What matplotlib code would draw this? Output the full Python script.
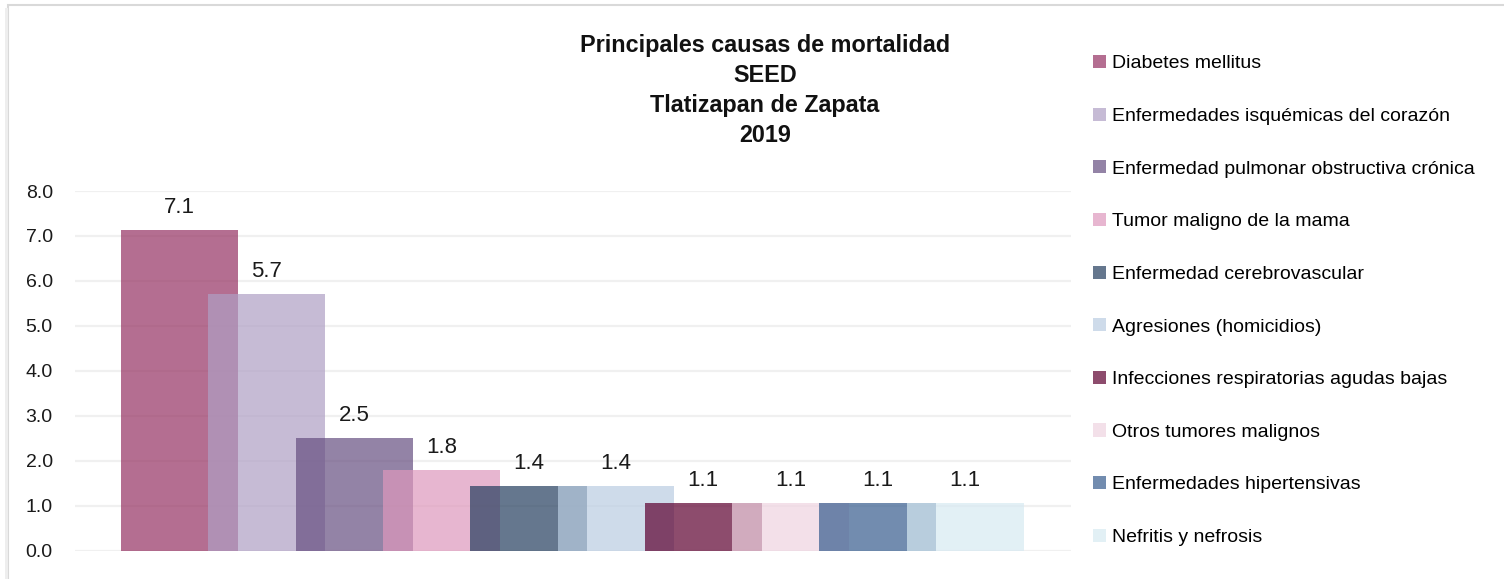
import matplotlib
matplotlib.use('Agg')
import matplotlib.pyplot as plt
from matplotlib.patches import Rectangle, Patch
import numpy as np

plt.rcParams['font.family'] = ['Liberation Sans Narrow', 'Liberation Sans', 'DejaVu Sans']

# data
causes = ['Diabetes mellitus',
          'Enfermedades isquémicas del corazón',
          'Enfermedad pulmonar obstructiva crónica',
          'Tumor maligno de la mama',
          'Enfermedad cerebrovascular',
          'Agresiones (homicidios)',
          'Infecciones respiratorias agudas bajas',
          'Otros tumores malignos',
          'Enfermedades hipertensivas',
          'Nefritis y nefrosis']
rates = [7.14, 5.71, 2.51, 1.80, 1.44, 1.44, 1.06, 1.06, 1.06, 1.06]
colors = ['#953162', '#af9fc4', '#664e80', '#de98bc', '#243e5e',
          '#bacde2', '#5d002f', '#efd4e1', '#365c8e', '#d7eaf2']
title_lines = ['Principales causas de mortalidad', 'SEED', 'Tlatizapan de Zapata', '2019']

W, H = 1504, 579
fig = plt.figure(figsize=(W / 100, H / 100), dpi=100)

# chart area border
fig.patches.append(Rectangle((8 / W, -0.05), 1.2, 1 - 5 / H + 0.05, transform=fig.transFigure,
                             fill=False, edgecolor='#d9d9d9', lw=1.5))
fig.patches.append(Rectangle((5 / W, -0.05), 3 / W, 1 - 8 / H + 0.05, transform=fig.transFigure,
                             facecolor='#eeeeee', edgecolor='none'))

ax = fig.add_axes([75 / W, (H - 550.7) / H, (1071 - 75) / W, (550.7 - 191) / H])
x = np.arange(len(rates))
for i, (v, c) in enumerate(zip(rates, colors)):
    ax.bar(x[i], v, width=1.34, color=c, alpha=0.7, linewidth=0, zorder=2 + i)
    ax.annotate('{:.1f}'.format(v), (x[i], v), xytext=(0, 12), textcoords='offset points',
                ha='center', va='baseline', fontsize=16, color='#1a1a1a', zorder=20)

ax.set_ylim(0, 8)
ax.set_xlim(-(179.5 - 75) / 87.3, (1071 - 179.5) / 87.3)
ax.set_yticks(np.arange(0, 9, 1))
ax.set_yticklabels(['{:.1f}'.format(t) for t in range(9)], fontsize=14, color='#1a1a1a')
ax.tick_params(axis='y', length=0, pad=16)
ax.set_xticks([])
for s in ax.spines.values():
    s.set_visible(False)
ax.grid(axis='y', color='#f0f0f0', lw=1.6, zorder=0)
ax.set_axisbelow(True)

# title
for k, line in enumerate(title_lines):
    fig.text(765 / W, 1 - (52 + 30 * k) / H, line, ha='center', va='baseline',
             fontsize=16.8, fontweight='bold', color='#111111')

# legend
handles = [Patch(facecolor=c, alpha=0.7, edgecolor='none') for c in colors]
fig.legend(handles, causes, loc='upper left', bbox_to_anchor=(1093 / W, 1 - 55 / H),
           frameon=False, fontsize=14, handlelength=0.67, handleheight=0.67,
           handletextpad=0.3, labelspacing=1.81, borderpad=0, borderaxespad=0)

fig.savefig('out.png', dpi=100, facecolor='white')
